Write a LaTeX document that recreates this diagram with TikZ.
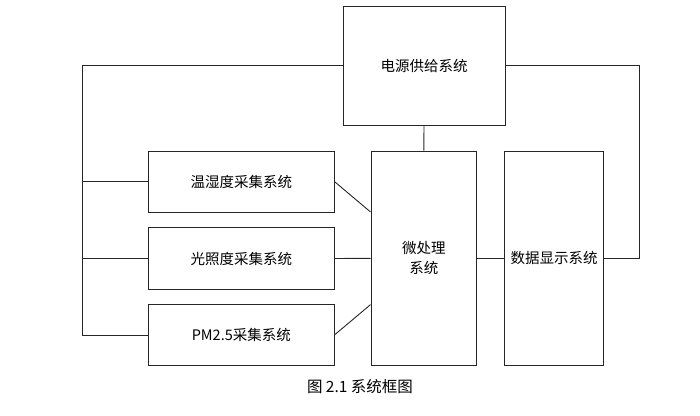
\documentclass[tikz,border=0pt]{standalone}
\usepackage{fontspec}
\usepackage{tikz}
\newfontfamily\cjk{Noto Sans CJK SC}
\tikzstyle{block}=[draw=black!85, line width=0.9pt, inner sep=0pt, align=center, font=\cjk\fontsize{14.5}{20}\selectfont]
\tikzstyle{link}=[line width=0.9pt, color=black!85]

\begin{document}
\begin{tikzpicture}[x=1pt, y=-1pt]
\useasboundingbox (0,0) rectangle (700,415);
\node[block, minimum width=162pt, minimum height=119pt] (power) at (424,65.5) {电源供给系统};
\node[block, minimum width=105.7pt, minimum height=214.7pt] (micro) at (423.8,258.3) {微处理\\系统};
\node[block, minimum width=99pt, minimum height=214.7pt] (display) at (554.2,258.3) {数据显示系统};
\node[block, minimum width=185.3pt, minimum height=61pt] (temp) at (241.3,181.5) {温湿度采集系统};
\node[block, minimum width=185.3pt, minimum height=61.6pt] (light) at (241.3,258.5) {光照度采集系统};
\node[block, minimum width=185.3pt, minimum height=61.4pt] (pm) at (241.3,335) {PM2.5采集系统};
\coordinate (left_bus) at (82,65.5);
\coordinate (right_bus) at (639,65.5);

\node[font=\cjk\fontsize{15.5}{18}\selectfont] (caption) at (360,387) {图 2.1 系统框图};
\draw[link] (power.west) -- (left_bus) |- (pm.west);
\draw[link] (temp.west) -- (temp.west -| left_bus);
\draw[link] (light.west) -- (light.west -| left_bus);
\draw[link] (power.east) -- (right_bus) |- (display.east);
\draw[link] (power.south) -- (micro.north);
\draw[link] (micro.east) -- (display.west);
\draw[link] (temp.east) -- (micro.139);
\draw[link] (light.east) -- (micro.west);
\draw[link] (pm.east) -- (micro.221);
\end{tikzpicture}
\end{document}
